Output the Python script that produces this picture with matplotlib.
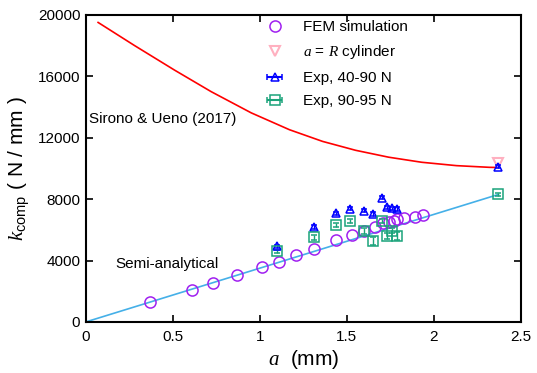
import numpy as np
from matplotlib import pyplot as plt

plt.rcParams.update({
    'font.family': 'Liberation Sans',
    'font.size': 10,
    'mathtext.fontset': 'custom',
    'mathtext.it': 'Liberation Serif:italic',
    'mathtext.rm': 'Liberation Sans',
    'mathtext.sf': 'Liberation Sans',
    'axes.linewidth': 1.5,
    'xtick.direction': 'in',
    'ytick.direction': 'in',
    'xtick.top': True,
    'ytick.right': True,
})

# FEM simulation
fem_a = [0.37, 0.61, 0.73, 0.87, 1.01, 1.11, 1.21, 1.31, 1.44, 1.53,
         1.60, 1.66, 1.71, 1.74, 1.77, 1.79, 1.83, 1.89, 1.94]
fem_k = [1280, 2065, 2540, 3050, 3565, 3930, 4330, 4775, 5320, 5670,
         5950, 6210, 6420, 6500, 6600, 6690, 6760, 6860, 6990]

# a = R cylinder
cyl_a = [2.37]
cyl_k = [10330]

# experiments
exp_a = [1.10, 1.31, 1.44, 1.52, 1.60, 1.65, 1.70, 1.73, 1.76, 1.79, 2.37]
exp1_k = [4915, 6185, 7080, 7380, 7250, 7010, 8090, 7470, 7390, 7360, 10110]
exp1_err = [120, 100, 110, 100, 100, 120, 110, 100, 100, 110, 100]
exp2_k = [4590, 5500, 6300, 6590, 5940, 5250, 6590, 5610, 5940, 5600, 8310]
exp2_err = [120, 150, 130, 120, 200, 250, 130, 200, 180, 250, 100]

# semi-analytical line
semi_a = [0.0, 2.37]
semi_k = [0.0, 8300]

# Sirono & Ueno (2017)
su_a = [0.07, 0.28, 0.51, 0.72, 0.95, 1.17, 1.36, 1.55, 1.74, 1.93, 2.13, 2.32, 2.37]
su_k = [19510, 18000, 16400, 15000, 13620, 12520, 11760, 11180, 10730, 10400, 10180, 10070, 10060]

purple = '#a020f0'
green = '#1aa37a'
pink = '#ffb0c0'

fig = plt.figure(figsize=(5.37, 3.73), dpi=100)
ax = fig.add_axes([0.160, 0.137, 0.810, 0.823])

ax.plot(semi_a, semi_k, color='#45b0e8', lw=1.2, zorder=1)
ax.plot(su_a, su_k, color='red', lw=1.2, zorder=1)

ax.plot(fem_a, fem_k, 'o', ms=8, mfc='none', mec=purple, mew=1.1, zorder=3)
ax.errorbar(exp_a, exp1_k, yerr=exp1_err, fmt='^', ms=6, mfc='none', mec='blue',
            ecolor='blue', elinewidth=1, capsize=2, mew=1.1, zorder=4)
ax.errorbar(exp_a, exp2_k, yerr=exp2_err, fmt='s', ms=7, mfc='none', mec=green,
            ecolor=green, elinewidth=1, capsize=2, mew=1.1, zorder=4)
ax.plot(cyl_a, cyl_k, 'v', ms=7, mfc='none', mec=pink, mew=1.5, zorder=2)

# legend handles
h1, = ax.plot([np.nan], [np.nan], 'o', ms=8, mfc='none', mec=purple, mew=1.1)
h2, = ax.plot([np.nan], [np.nan], 'v', ms=7, mfc='none', mec=pink, mew=1.5)
h3 = ax.errorbar([np.nan], [np.nan], xerr=[1], fmt='^', ms=6, mfc='none', mec='blue',
                 ecolor='blue', capsize=2, mew=1.1)
h4 = ax.errorbar([np.nan], [np.nan], xerr=[1], fmt='s', ms=7, mfc='none', mec=green,
                 ecolor=green, capsize=2, mew=1.1)
ax.legend([h1, h2, h3, h4],
          ['FEM simulation', '$a$ = $R$ cylinder', 'Exp, 40-90 N', 'Exp, 90-95 N'],
          loc='upper left', bbox_to_anchor=(257 / 537, 1 - 20 / 373),
          bbox_transform=fig.transFigure, frameon=False, fontsize=11,
          handlelength=2.3, handletextpad=0.7, labelspacing=0.62, borderpad=0,
          borderaxespad=0)

ax.text(0.02, 13200, 'Sirono & Ueno (2017)', fontsize=11, va='center', ha='left')
ax.text(0.17, 3800, 'Semi-analytical', fontsize=11, va='center', ha='left')

ax.set_xlim(0, 2.5)
ax.set_ylim(0, 20000)
ax.set_xticks([0, 0.5, 1, 1.5, 2, 2.5])
ax.set_xticklabels(['0', '0.5', '1', '1.5', '2', '2.5'])
ax.set_yticks([0, 4000, 8000, 12000, 16000, 20000])
ax.tick_params(labelsize=11, length=5, width=1.2, pad=4)
ax.tick_params(axis='x', pad=6)

ax.set_xlabel('$a$  (mm)', fontsize=15, labelpad=3)
ax.set_ylabel(r'$k_{\rm comp}$ ( N / mm )', fontsize=15, labelpad=4)

plt.savefig('out.png', dpi=100)
